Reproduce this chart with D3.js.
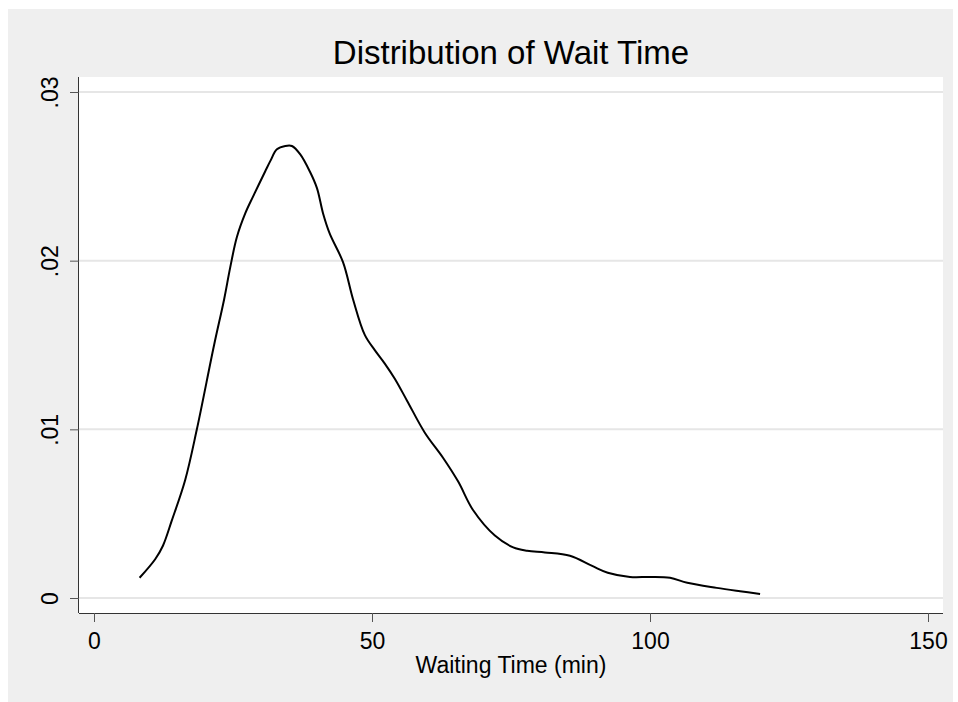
<!DOCTYPE html>
<html>
<head>
<meta charset="utf-8">
<script src="https://cdn.jsdelivr.net/npm/d3@7"></script>
<style>
  body { margin: 0; background: #fff; }
  svg { display: block; font-family: "Liberation Sans", Arial, sans-serif; }
</style>
</head>
<body>
<svg id="chart" width="958" height="702"></svg>
<script>
// kernel density of waiting time
const waitTime = [8.2, 11.0, 12.4, 14.0, 16.4, 18.5, 21.6, 23.4, 24.5, 25.7, 27.2, 28.6,
  30.8, 31.7, 32.9, 34.4, 35.6, 37.1, 38.8, 40.1, 41.2, 42.4, 44.8, 46.6, 48.7, 50.5,
  52.3, 54.1, 56.3, 59.5, 62.8, 65.5, 68.2, 72.1, 75.4, 77.9, 81.1, 85.6, 89.6, 92.4,
  96.4, 100.0, 103.6, 106.7, 112.0, 116.2, 119.8];
const density = [0.0012, 0.0023, 0.0031, 0.0046, 0.0070, 0.0100, 0.0150, 0.0177, 0.0196,
  0.0214, 0.0228, 0.0238, 0.0253, 0.0259, 0.0266, 0.0268, 0.0268, 0.0263, 0.0253, 0.0243,
  0.0228, 0.0216, 0.0199, 0.0177, 0.0156, 0.0147, 0.0139, 0.0130, 0.0117, 0.0098, 0.0083,
  0.0069, 0.0052, 0.0037, 0.0030, 0.0028, 0.0027, 0.0025, 0.0019, 0.0015, 0.00125,
  0.00125, 0.0012, 0.0009, 0.0006, 0.0004, 0.00024];

const xTicks = [0, 50, 100, 150];
const yTicks = [0, 0.01, 0.02, 0.03];
const yTickLabels = ['0', '.01', '.02', '.03'];

const svg = d3.select('#chart');

// outer gray panel
svg.append('rect')
  .attr('x', 8).attr('y', 9)
  .attr('width', 945).attr('height', 693)
  .attr('fill', '#efefef');

const plot = { left: 79, right: 943, top: 77, bottom: 613 };

svg.append('rect')
  .attr('x', plot.left).attr('y', plot.top)
  .attr('width', plot.right - plot.left).attr('height', plot.bottom - plot.top)
  .attr('fill', '#fff');

const x = d3.scaleLinear().domain([0, 150]).range([94, 928]);
const y = d3.scaleLinear().domain([0, 0.03]).range([598, 92]);

// grid lines
svg.append('g')
  .selectAll('line')
  .data(yTicks)
  .enter()
  .append('line')
  .attr('x1', plot.left).attr('x2', plot.right)
  .attr('y1', d => y(d)).attr('y2', d => y(d))
  .attr('stroke', '#e6e6e6')
  .attr('stroke-width', 2);

// density curve
const line = d3.line()
  .x((d, i) => x(waitTime[i]))
  .y(d => y(d))
  .curve(d3.curveCatmullRom);

svg.append('path')
  .datum(density)
  .attr('d', line)
  .attr('fill', 'none')
  .attr('stroke', '#000')
  .attr('stroke-width', 2);

// x axis
const xAxis = svg.append('g')
  .attr('transform', 'translate(0,' + plot.bottom + ')')
  .call(d3.axisBottom(x).tickValues(xTicks).tickSize(9).tickSizeOuter(0));
xAxis.select('.domain').attr('d', 'M' + plot.left + ',0.5H' + plot.right).attr('stroke', '#333');
xAxis.selectAll('.tick line').attr('stroke', '#555');
xAxis.selectAll('.tick text')
  .attr('y', 36).attr('dy', 0)
  .attr('fill', '#000')
  .style('font-size', '23px')
  .style('font-family', '"Liberation Sans", Arial, sans-serif');

// y axis
const yAxis = svg.append('g')
  .attr('transform', 'translate(' + plot.left + ',0)')
  .call(d3.axisLeft(y).tickValues(yTicks).tickSize(9).tickSizeOuter(0)
    .tickFormat((d, i) => yTickLabels[i]));
yAxis.select('.domain').attr('d', 'M-0.5,' + plot.top + 'V' + plot.bottom).attr('stroke', '#333');
yAxis.selectAll('.tick line').attr('stroke', '#555');
yAxis.selectAll('.tick text')
  .attr('transform', 'rotate(-90)')
  .attr('x', 0).attr('y', -21).attr('dy', 0)
  .attr('text-anchor', 'middle')
  .attr('fill', '#000')
  .style('font-size', '23px')
  .style('font-family', '"Liberation Sans", Arial, sans-serif');

// titles
svg.append('text')
  .attr('x', (plot.left + plot.right) / 2)
  .attr('y', 64)
  .attr('text-anchor', 'middle')
  .style('font-size', '33px')
  .text('Distribution of Wait Time');

svg.append('text')
  .attr('x', (plot.left + plot.right) / 2)
  .attr('y', 673)
  .attr('text-anchor', 'middle')
  .style('font-size', '23px')
  .text('Waiting Time (min)');
</script>
</body>
</html>
